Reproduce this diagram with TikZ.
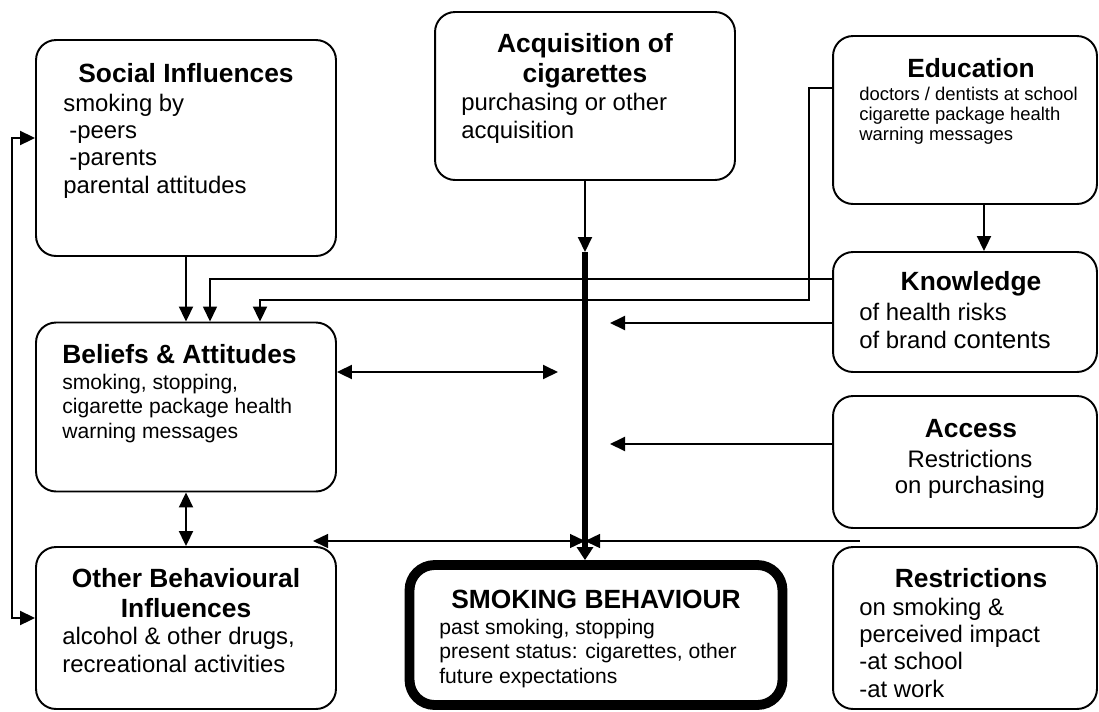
\documentclass[tikz,border=0pt]{standalone}
\usepackage{fontspec}
\setmainfont{Liberation Sans}
\usetikzlibrary{arrows.meta}

\begin{document}
\begin{tikzpicture}[
  x=0.02cm, y=-0.02cm,
  box/.style={draw, line width=1.1pt, rounded corners=0.4cm, inner sep=0pt},
  mainbox/.style={draw, line width=5.6pt, rounded corners=0.5cm, inner sep=0pt},
  ttl/.style={font=\fontsize{15}{17}\selectfont\bfseries, inner sep=0pt, align=center, anchor=base},
  txt/.style={font=\fontsize{13.6}{15.5}\selectfont, inner sep=0pt, align=left, anchor=base west},
  small/.style={font=\fontsize{12}{13.8}\selectfont},
  tiny/.style={font=\fontsize{10.5}{11.3}\selectfont},
  arr/.style={-{Triangle[length=0.3cm, width=0.28cm]}, line width=1.1pt},
  darr/.style={{Triangle[length=0.3cm, width=0.28cm]}-{Triangle[length=0.3cm, width=0.28cm]}, line width=1.1pt},
  spine/.style={-{Triangle[length=0.26cm, width=0.32cm]}, line width=3.4pt}
]
  \useasboundingbox (0,0) rectangle (1099,711);

  % boxes
  \node[box, minimum width=6cm, minimum height=4.32cm]     (social)  at (186,148) {};
  \node[box, minimum width=6cm, minimum height=3.36cm]     (acq)     at (585,96)  {};
  \node[box, minimum width=5.28cm, minimum height=3.36cm]  (edu)     at (965,120) {};
  \node[box, minimum width=5.28cm, minimum height=2.4cm]   (know)    at (965,312) {};
  \node[box, minimum width=5.28cm, minimum height=2.64cm]  (access)  at (965,462) {};
  \node[box, minimum width=5.28cm, minimum height=3.24cm]  (restr)   at (965,628) {};
  \node[box, minimum width=6cm, minimum height=3.38cm]     (beliefs) at (186,407) {};
  \node[box, minimum width=6cm, minimum height=3.24cm]     (other)   at (186,628) {};
  \node[mainbox, minimum width=7.46cm, minimum height=2.8cm] (smoke) at (596,635) {};

  % texts (base = last line)
  \node[ttl] (socialT) at (186,82) {Social Influences};
  \node[txt] (socialB) at (63,193) {smoking by\\\hspace*{0.25em}-peers\\\hspace*{0.25em}-parents\\parental attitudes};
  \node[ttl] (acqT) at (585,82) {Acquisition of\\cigarettes};
  \node[txt] (acqB) at (461,138) {purchasing or other\\acquisition};
  \node[ttl] (eduT) at (971,77) {Education};
  \node[txt, tiny] (eduB) at (859,140) {doctors / dentists at school\\cigarette package health\\warning messages};
  \node[ttl] (knowT) at (971,290) {Knowledge};
  \node[txt, font=\fontsize{13.6}{15.9}\selectfont] (knowB) at (859,348) {of health risks\\of brand {\fontsize{14.6}{15}\selectfont contents}};
  \node[ttl] (accessT) at (971,437) {Access};
  \node[txt, align=center, anchor=base, font=\fontsize{13.6}{14.7}\selectfont] (accessB) at (970,493) {Restrictions\\on purchasing};
  \node[ttl] (restrT) at (971,587) {Restrictions};
  \node[txt] (restrB) at (859,697) {on smoking \&\\perceived impact\\-at school\\-at work};
  \node[ttl, anchor=base west] (beliefsT) at (62,363) {Beliefs \& Attitudes};
  \node[txt, small] (beliefsB) at (62,438) {smoking, stopping,\\cigarette package health\\warning messages};
  \node[ttl] (otherT) at (186,617) {Other Behavioural\\Influences};
  \node[txt] (otherB) at (62,672) {alcohol \& other drugs,\\recreational activities};
  \node[ttl] (smokeT) at (596,608) {SMOKING BEHAVIOUR};
  \node[txt, small] (smokeB) at (439,683) {past smoking, stopping\\present status: cigarettes, other\\future expectations};

  % free ends
  \coordinate (hub)  at (585,252);
  \coordinate (jn)   at (585,541);
  \coordinate (kin)  at (610,323);
  \coordinate (ain)  at (610,444);
  \coordinate (bout) at (558,372);
  \coordinate (oend) at (313,541);
  \coordinate (rend) at (860,541);

  % connectors
  \draw[spine] (hub) -- (hub |- smoke.north);
  \draw[arr] (acq) -- (hub);
  \draw[arr] (social) -- (beliefs);
  \draw[darr] (beliefs) -- (other);
  \draw[arr] (984,0 |- edu.south) -- (984,0 |- know.north);
  \draw[arr, line width=0.8pt] (know.west |- 0,279) -| (210,0 |- beliefs.north);
  \draw[arr] (edu.west |- 0,88) -- (809,88) |- (260,300) -- (260,0 |- beliefs.north);
  \draw[arr] (know.west |- kin) -- (kin);
  \draw[arr] (access.west |- ain) -- (ain);
  \draw[darr] (beliefs.east |- bout) -- (bout);
  \draw[darr] (social.west |- 0,138) -- (12,138) |- (other.west |- 0,618);
  \draw[darr, line width=0.8pt] (oend) -- (jn);
  \draw[arr, line width=0.8pt] (rend) -- (jn);
\end{tikzpicture}
\end{document}
